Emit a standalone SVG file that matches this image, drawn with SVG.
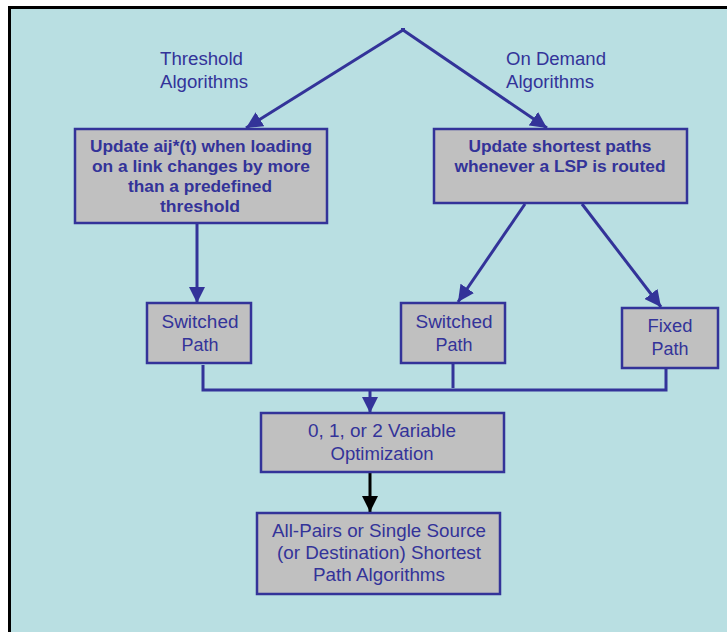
<svg xmlns="http://www.w3.org/2000/svg" width="727" height="632" viewBox="0 0 727 632">
  <defs>
    <marker id="ah-blue" viewBox="0 0 10 10" refX="10" refY="5" markerWidth="5.5" markerHeight="5.5" orient="auto" markerUnits="strokeWidth">
      <path d="M0,0 L10,5 L0,10 z" fill="#333399"/>
    </marker>
    <marker id="ah-black" viewBox="0 0 10 10" refX="10" refY="5" markerWidth="5.5" markerHeight="5.5" orient="auto" markerUnits="strokeWidth">
      <path d="M0,0 L10,5 L0,10 z" fill="#000000"/>
    </marker>
  </defs>
  <style>
    .box { fill: #C0C0C0; stroke: #333399; stroke-width: 2.5; }
    .t { font-family: "Liberation Sans", Arial, sans-serif; font-size: 17.5px; fill: #333399; text-anchor: middle; }
    .lbl { font-family: "Liberation Sans", Arial, sans-serif; font-size: 18px; fill: #333399; }
    .b { font-family: "Liberation Sans", Arial, sans-serif; font-size: 16px; font-weight: bold; fill: #333399; text-anchor: middle; }
    .edge { fill: none; stroke: #333399; stroke-width: 3; }
    .edge-k { fill: none; stroke: #000000; stroke-width: 3; }
  </style>

  <!-- page background and frame -->
  <rect x="0" y="0" width="727" height="632" fill="#FFFFFF"/>
  <rect x="9.5" y="7.5" width="730" height="640" fill="#B9DFE2" stroke="#000000" stroke-width="3"/>

  <!-- branch labels -->
  <g id="label-threshold">
    <text class="lbl" x="160" y="65" textLength="83" lengthAdjust="spacingAndGlyphs">Threshold</text>
    <text class="lbl" x="160" y="88" textLength="88" lengthAdjust="spacingAndGlyphs">Algorithms</text>
  </g>
  <g id="label-ondemand">
    <text class="lbl" x="506" y="65" textLength="100" lengthAdjust="spacingAndGlyphs">On Demand</text>
    <text class="lbl" x="506" y="88" textLength="88" lengthAdjust="spacingAndGlyphs">Algorithms</text>
  </g>

  <!-- connectors -->
  <g id="connectors">
    <line class="edge" x1="403" y1="30" x2="246" y2="128" marker-end="url(#ah-blue)"/>
    <line class="edge" x1="403" y1="30" x2="547" y2="128" marker-end="url(#ah-blue)"/>
    <rect x="401" y="28" width="4" height="3" fill="#333399"/>
    <line class="edge" x1="197" y1="223" x2="197" y2="303" marker-end="url(#ah-blue)"/>
    <line class="edge" x1="525" y1="204" x2="458" y2="302" marker-end="url(#ah-blue)"/>
    <line class="edge" x1="582" y1="204" x2="661" y2="307" marker-end="url(#ah-blue)"/>
    <polyline class="edge" points="203,365 203,390 666,390 666,369"/>
    <line class="edge" x1="453" y1="364" x2="453" y2="388"/>
    <line class="edge" x1="370" y1="390" x2="370" y2="413" marker-end="url(#ah-blue)"/>
    <line class="edge-k" x1="370" y1="472" x2="370" y2="512" marker-end="url(#ah-black)"/>
  </g>

  <!-- nodes -->
  <g id="node-threshold-update">
    <rect class="box" x="75" y="129" width="252" height="94"/>
    <text class="b" x="201" y="152" textLength="222" lengthAdjust="spacingAndGlyphs">Update aij*(t) when loading</text>
    <text class="b" x="201" y="172" textLength="218" lengthAdjust="spacingAndGlyphs">on a link changes by more</text>
    <text class="b" x="200" y="192" textLength="144" lengthAdjust="spacingAndGlyphs">than a predefined</text>
    <text class="b" x="200" y="212" textLength="80" lengthAdjust="spacingAndGlyphs">threshold</text>
  </g>
  <g id="node-ondemand-update">
    <rect class="box" x="434" y="129" width="253" height="74"/>
    <text class="b" x="560" y="152" textLength="183" lengthAdjust="spacingAndGlyphs">Update shortest paths</text>
    <text class="b" x="560" y="172" textLength="211" lengthAdjust="spacingAndGlyphs">whenever a LSP is routed</text>
  </g>
  <g id="node-switched-left">
    <rect class="box" x="147" y="303" width="104" height="60"/>
    <text class="t" x="200" y="328" textLength="77" lengthAdjust="spacingAndGlyphs">Switched</text>
    <text class="t" x="200" y="351" textLength="37" lengthAdjust="spacingAndGlyphs">Path</text>
  </g>
  <g id="node-switched-mid">
    <rect class="box" x="401" y="303" width="104" height="60"/>
    <text class="t" x="454" y="328" textLength="77" lengthAdjust="spacingAndGlyphs">Switched</text>
    <text class="t" x="454" y="351" textLength="37" lengthAdjust="spacingAndGlyphs">Path</text>
  </g>
  <g id="node-fixed">
    <rect class="box" x="622" y="308" width="96" height="60"/>
    <text class="t" x="670" y="332" textLength="45" lengthAdjust="spacingAndGlyphs">Fixed</text>
    <text class="t" x="670" y="355" textLength="37" lengthAdjust="spacingAndGlyphs">Path</text>
  </g>
  <g id="node-optimization">
    <rect class="box" x="261" y="413" width="243" height="59"/>
    <text class="t" x="382" y="437" textLength="148" lengthAdjust="spacingAndGlyphs">0, 1, or 2 Variable</text>
    <text class="t" x="382" y="460" textLength="103" lengthAdjust="spacingAndGlyphs">Optimization</text>
  </g>
  <g id="node-shortest-path">
    <rect class="box" x="257" y="513" width="243" height="81"/>
    <text class="t" x="379" y="537" textLength="214" lengthAdjust="spacingAndGlyphs">All-Pairs or Single Source</text>
    <text class="t" x="379" y="559" textLength="204" lengthAdjust="spacingAndGlyphs">(or Destination) Shortest</text>
    <text class="t" x="379" y="581" textLength="132" lengthAdjust="spacingAndGlyphs">Path Algorithms</text>
  </g>
</svg>
